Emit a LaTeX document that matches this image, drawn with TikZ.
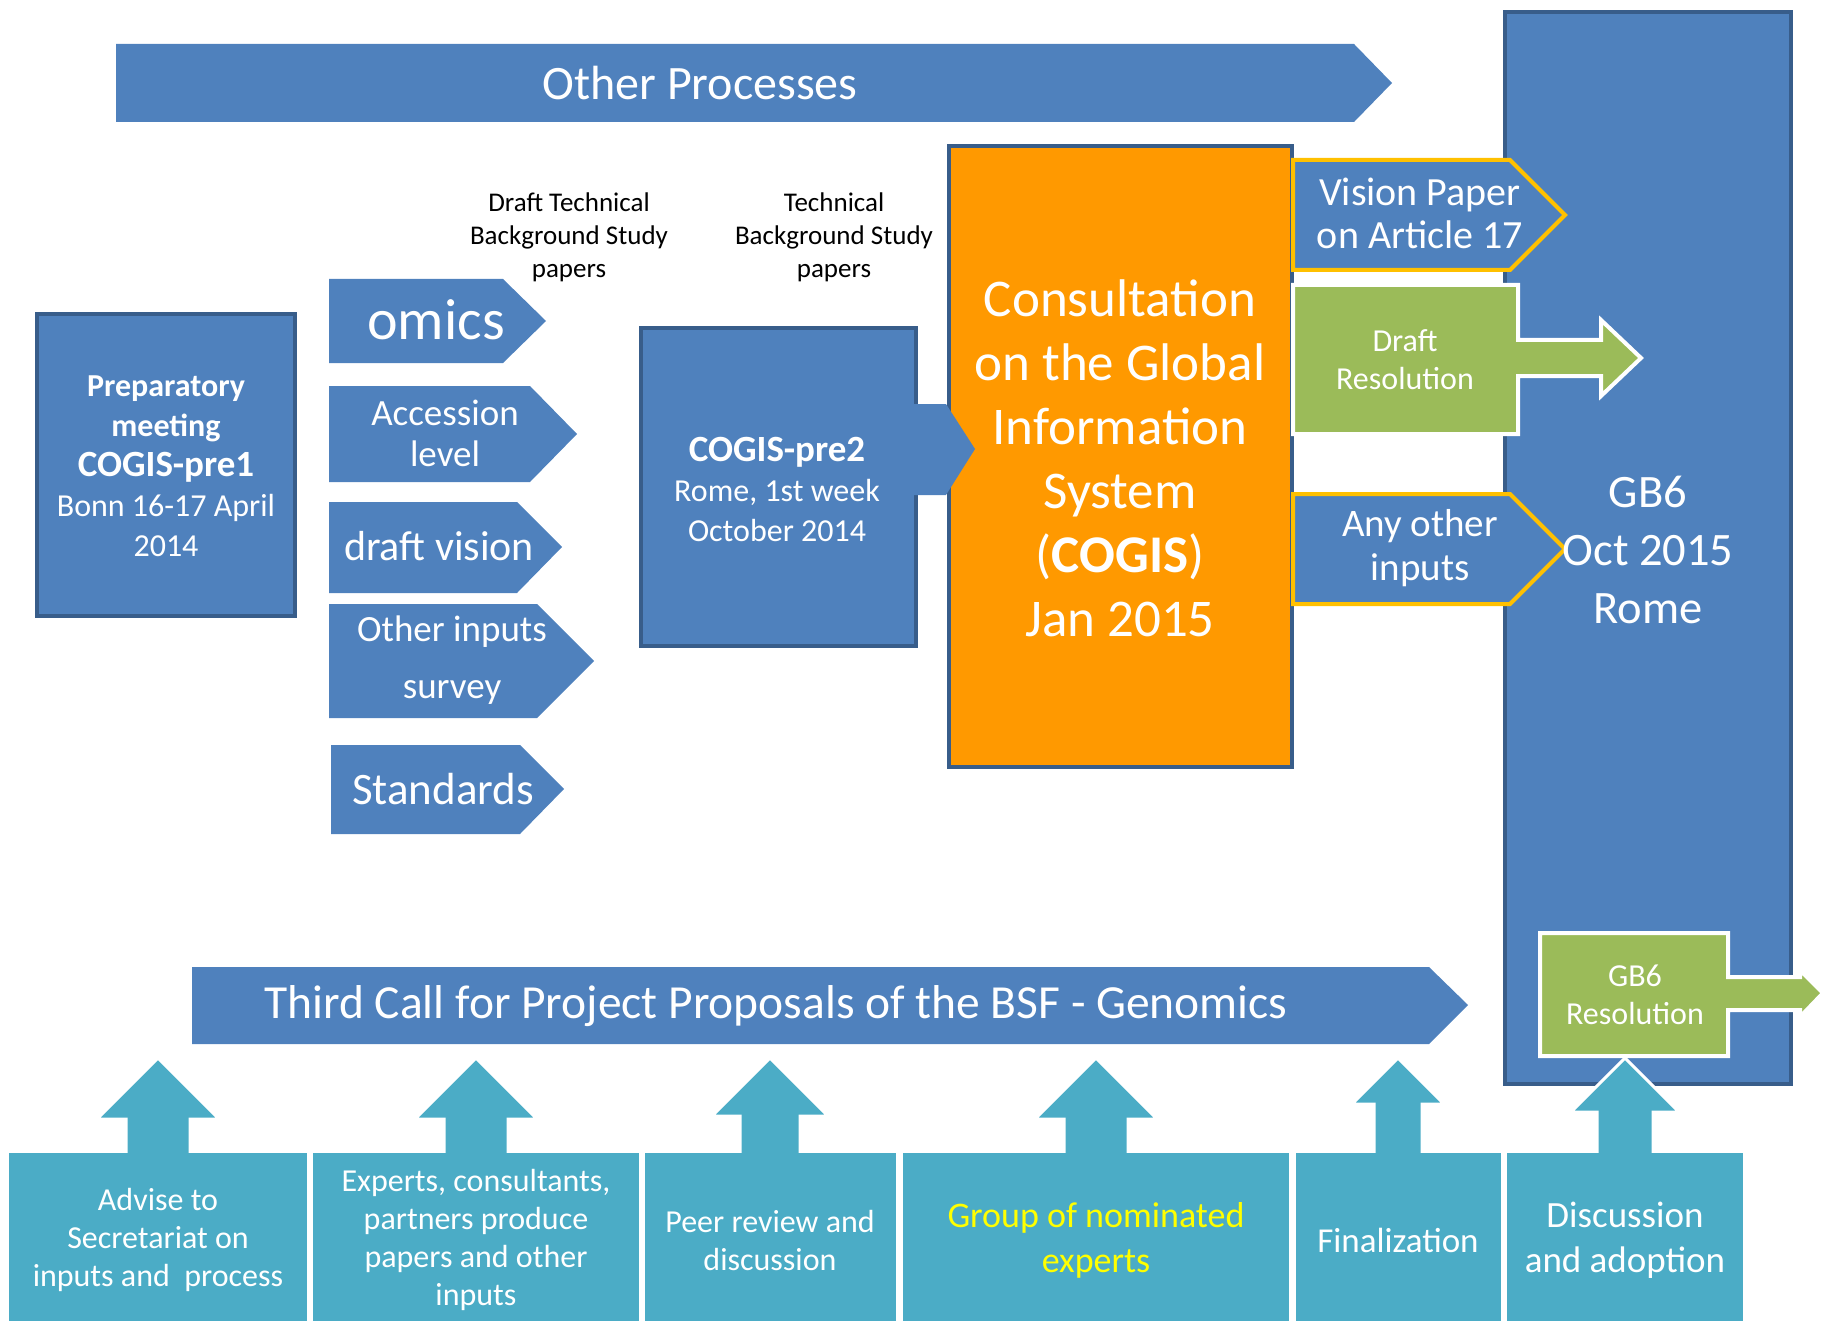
\documentclass[tikz,border=0pt]{standalone}
\usepackage{fontspec}
\setmainfont{Carlito}

\definecolor{cblue}{HTML}{4F81BD}
\definecolor{cdark}{HTML}{385D8A}
\definecolor{corange}{HTML}{FF9900}
\definecolor{cteal}{HTML}{4BACC6}
\definecolor{cgreen}{HTML}{9BBB59}
\definecolor{cyellow}{HTML}{FFC000}
\definecolor{ctxtyellow}{HTML}{FFFF00}

\newcommand{\fsz}[2]{\fontsize{#1}{#2}\selectfont}

\tikzset{
  bluearr/.style={fill=cblue},
  bluebox/.style={fill=cblue, draw=cdark, line width=4pt},
  orangebox/.style={fill=corange, draw=cdark, line width=4pt},
  yellowarr/.style={fill=cblue, draw=cyellow, line width=4pt},
  greenarr/.style={fill=cgreen, draw=white, line width=4pt},
  tealbox/.style={fill=cteal},
  tealup/.style={fill=cteal, draw=white, line width=3pt},
  txt/.style={text=white, align=center, inner sep=0pt}
}

\begin{document}
\begin{tikzpicture}[x=1pt, y=-1pt]
  \useasboundingbox (0,0) rectangle (1822,1321);

  % GB6 column in the back
  \draw[bluebox] (1505,12) rectangle (1791,1084);

  % top and middle process bars
  \fill[bluearr] (116,44) -- (1354,44) -- (1392,83) -- (1354,122) -- (116,122) -- cycle;
  \fill[bluearr] (192,967) -- (1429,967) -- (1468,1005) -- (1429,1044) -- (192,1044) -- cycle;

  % meetings
  \draw[bluebox] (37,314) rectangle (295,616);
  \draw[bluebox] (641,328) rectangle (916,646);
  \draw[orangebox] (949,146) rectangle (1292,767);
  \fill[bluearr] (914,404) -- (946,404) -- (975,449) -- (946,495) -- (914,495) -- cycle;

  % inputs
  \fill[bluearr] (329,279) -- (503,279) -- (546,321) -- (503,363) -- (329,363) -- cycle;
  \fill[bluearr] (329,386) -- (530,386) -- (577,434) -- (530,482) -- (329,482) -- cycle;
  \fill[bluearr] (329,502) -- (517,502) -- (562,547) -- (517,593) -- (329,593) -- cycle;
  \fill[bluearr] (329,604) -- (537,604) -- (594,661) -- (537,718) -- (329,718) -- cycle;
  \fill[bluearr] (331,745) -- (520,745) -- (564,789) -- (520,834) -- (331,834) -- cycle;

  % outputs of the consultation
  \draw[yellowarr] (1293,160) -- (1510,160) -- (1565,215) -- (1510,270) -- (1293,270) -- cycle;
  \draw[yellowarr] (1293,494) -- (1510,494) -- (1565,549) -- (1510,604) -- (1293,604) -- cycle;
  \draw[greenarr] (1293,285) -- (1518,285) -- (1518,340) -- (1601,340) -- (1601,320)
    -- (1641,358) -- (1601,396) -- (1601,376) -- (1518,376) -- (1518,434) -- (1293,434) -- cycle;
  \draw[greenarr] (1540,933) -- (1728,933) -- (1728,977) -- (1800,977) -- (1800,970)
    -- (1823,993) -- (1800,1017) -- (1800,1010) -- (1728,1010) -- (1728,1056) -- (1540,1056) -- cycle;

  % up arrows of the bottom row
  \draw[tealup] (158,1058) -- (219,1119) -- (190,1119) -- (190,1160) -- (126,1160) -- (126,1119) -- (97,1119) -- cycle;
  \draw[tealup] (476,1058) -- (537,1119) -- (508,1119) -- (508,1160) -- (444,1160) -- (444,1119) -- (415,1119) -- cycle;
  \draw[tealup] (770,1058) -- (828,1116) -- (800,1116) -- (800,1160) -- (740,1160) -- (740,1116) -- (712,1116) -- cycle;
  \draw[tealup] (1096,1058) -- (1157,1119) -- (1128,1119) -- (1128,1160) -- (1064,1160) -- (1064,1119) -- (1035,1119) -- cycle;
  \draw[tealup] (1398,1058) -- (1444,1104) -- (1422,1104) -- (1422,1160) -- (1374,1160) -- (1374,1104) -- (1352,1104) -- cycle;
  \draw[tealup] (1625,1058) -- (1679,1112) -- (1653,1112) -- (1653,1160) -- (1597,1160) -- (1597,1112) -- (1571,1112) -- cycle;

  % bottom row of steps
  \fill[tealbox] (9,1153) rectangle (307,1330);
  \fill[tealbox] (313,1153) rectangle (639,1330);
  \fill[tealbox] (645,1153) rectangle (896,1330);
  \fill[tealbox] (903,1153) rectangle (1289,1330);
  \fill[tealbox] (1296,1153) rectangle (1501,1330);
  \fill[tealbox] (1507,1153) rectangle (1743,1330);

  % texts
  \node[txt, font=\fsz{48}{58}] (othproc) at (700,83) {Other Processes};
  \node[txt, font=\fsz{47.5}{56}] (thirdcall) at (776,1006) {Third Call for Project Proposals of the BSF - Genomics};

  \node[txt, font=\fsz{32}{40}] (pre1) at (166,466)
    {\bfseries Preparatory\\\bfseries meeting\\{\fontsize{37}{40}\selectfont\bfseries COGIS-pre1}\\Bonn 16-17 April\\2014};
  \node[txt, font=\fsz{32}{40}] (pre2) at (777,489)
    {{\fontsize{37}{40}\selectfont\bfseries COGIS-pre2}\\Rome, 1st week\\October 2014};
  \node[txt, font=\fsz{53}{64}] (cogis) at (1120,458)
    {Consultation\\on the Global\\Information\\System\\(\textbf{COGIS})\\Jan 2015};

  \node[txt, font=\fsz{58}{64}] (omics) at (436,320) {omics};
  \node[txt, font=\fsz{37}{41}] (access) at (445,433) {Accession\\level};
  \node[txt, font=\fsz{42}{48}] (vision) at (439,546) {draft vision};
  \node[txt, font=\fsz{37}{57}] (survey) at (452,660) {Other inputs\\survey};
  \node[txt, font=\fsz{45}{52}] (stand) at (443,789) {Standards};

  \node[txt, text=black, font=\fsz{27}{33}] (dtbs) at (569,237) {Draft Technical\\Background Study\\papers};
  \node[txt, text=black, font=\fsz{27}{33}] (tbs) at (834,237) {Technical\\Background Study\\papers};

  \node[txt, font=\fsz{40}{43}] (art17) at (1420,213) {Vision Paper\\on Article 17};
  \node[txt, font=\fsz{32}{38}] (draftres) at (1405,360) {Draft\\Resolution};
  \node[txt, font=\fsz{39}{44}] (anyinp) at (1420,548) {Any other\\inputs};
  \node[txt, font=\fsz{46.5}{58}] (gb6) at (1648,550) {GB6\\Oct 2015\\Rome};
  \node[txt, font=\fsz{32}{38}] (gb6res) at (1635,995) {GB6\\Resolution};

  \node[txt, font=\fsz{32}{38}] (advise) at (158,1240) {Advise to\\Secretariat on\\inputs and~~process};
  \node[txt, font=\fsz{32}{38}] (experts) at (476,1240) {Experts, consultants,\\partners produce\\papers and other\\inputs};
  \node[txt, font=\fsz{32}{38}] (peer) at (770,1240) {Peer review and\\discussion};
  \node[txt, text=ctxtyellow, font=\fsz{36}{45}] (group) at (1096,1240) {Group of nominated\\experts};
  \node[txt, font=\fsz{35}{42}] (final) at (1398,1240) {Finalization};
  \node[txt, font=\fsz{37}{45}] (adopt) at (1625,1240) {Discussion\\and adoption};
\end{tikzpicture}
\end{document}
